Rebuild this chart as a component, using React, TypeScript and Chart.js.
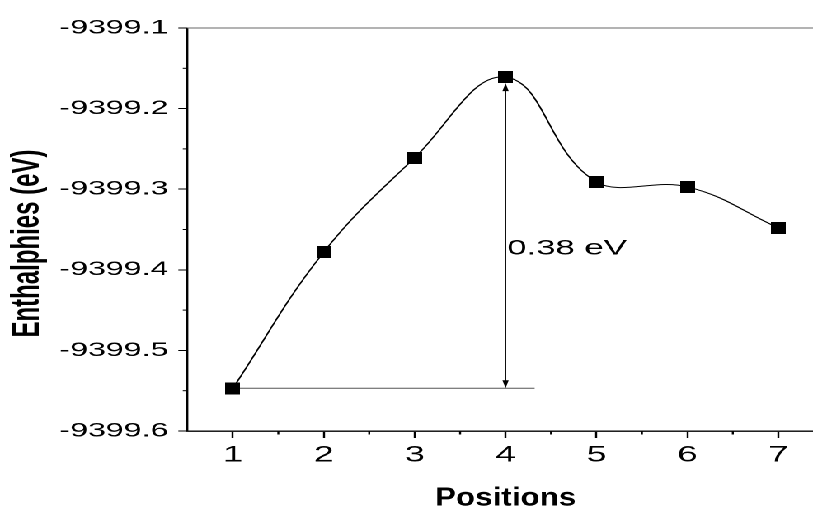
import React, { useEffect, useRef } from "react";
import { Chart, registerables } from "chart.js";

Chart.register(...registerables);

// ---- data ----
const positions = [1, 2, 3, 4, 5, 6, 7];
const enthalpies = [-9399.547, -9399.378, -9399.261, -9399.161, -9399.291, -9399.297, -9399.348];

// ---- axes ----
const xMin = 0.5;
const xMax = 7.4;
const yMin = -9399.6;
const yMax = -9399.1;
const yStep = 0.1;
const xMinorTicks = [1.5, 2.5, 3.5, 4.5, 5.5, 6.5];
const yMinorTicks = [-9399.55, -9399.45, -9399.35, -9399.25, -9399.15];

// ---- texts / annotation ----
const xTitle = "Positions";
const yTitle = "Enthalphies (eV)";
const barrierLabel = "0.38 eV";
const barrierLabelX = 4.02;
const barrierLabelY = -9399.374;
const baselineEndX = 4.32;
const baseIndex = 0;
const peakIndex = 3;

const VIEW_W = 493;
const W = 501;
const H = 506;
const STRETCH = 813 / VIEW_W;
const FONT = '"Liberation Sans", Arial, sans-serif';

const decorPlugin = {
  id: "decor",
  beforeDatasetsDraw(chart: any) {
    const { ctx, scales } = chart;
    const x = scales.x;
    const y = scales.y;
    ctx.save();
    const yb = y.getPixelForValue(enthalpies[baseIndex]);
    ctx.strokeStyle = "#555";
    ctx.lineWidth = 1;
    ctx.beginPath();
    ctx.moveTo(x.getPixelForValue(positions[baseIndex]), yb);
    ctx.lineTo(x.getPixelForValue(baselineEndX), yb);
    ctx.stroke();
    const ax = x.getPixelForValue(positions[peakIndex]);
    const yt = y.getPixelForValue(enthalpies[peakIndex]) + 6;
    ctx.strokeStyle = "#000";
    ctx.fillStyle = "#000";
    ctx.lineWidth = 0.8;
    ctx.beginPath();
    ctx.moveTo(ax, yt + 4);
    ctx.lineTo(ax, yb - 4);
    ctx.stroke();
    const hw = 1.9;
    const hl = 8;
    ctx.beginPath();
    ctx.moveTo(ax, yt);
    ctx.lineTo(ax - hw, yt + hl);
    ctx.lineTo(ax + hw, yt + hl);
    ctx.closePath();
    ctx.fill();
    ctx.beginPath();
    ctx.moveTo(ax, yb);
    ctx.lineTo(ax - hw, yb - hl);
    ctx.lineTo(ax + hw, yb - hl);
    ctx.closePath();
    ctx.fill();
    ctx.font = `21px ${FONT}`;
    ctx.textAlign = "left";
    ctx.textBaseline = "middle";
    ctx.fillText(barrierLabel, x.getPixelForValue(barrierLabelX), y.getPixelForValue(barrierLabelY));
    ctx.restore();
  },
  afterDraw(chart: any) {
    const { ctx, chartArea, scales } = chart;
    const x = scales.x;
    const y = scales.y;
    ctx.save();
    ctx.strokeStyle = "#666";
    ctx.lineWidth = 1;
    ctx.beginPath();
    ctx.moveTo(chartArea.left, chartArea.top);
    ctx.lineTo(chartArea.right, chartArea.top);
    ctx.stroke();
    ctx.strokeStyle = "#000";
    ctx.lineWidth = 1.2;
    xMinorTicks.forEach((v) => {
      const px = x.getPixelForValue(v);
      ctx.beginPath();
      ctx.moveTo(px, chartArea.bottom);
      ctx.lineTo(px, chartArea.bottom + 3.5);
      ctx.stroke();
    });
    ctx.lineWidth = 1;
    yMinorTicks.forEach((v) => {
      const py = y.getPixelForValue(v);
      ctx.beginPath();
      ctx.moveTo(chartArea.left, py);
      ctx.lineTo(chartArea.left - 2.8, py);
      ctx.stroke();
    });
    ctx.fillStyle = "#000";
    // x title
    ctx.save();
    ctx.font = `bold 19px ${FONT}`;
    ctx.textAlign = "center";
    ctx.textBaseline = "alphabetic";
    ctx.translate((chartArea.left + chartArea.right) / 2 + 2.8, 505.5);
    ctx.scale(1, 1.35);
    ctx.fillText(xTitle, 0, 0);
    ctx.restore();
    // y title
    ctx.font = `bold 24px ${FONT}`;
    ctx.textAlign = "center";
    ctx.textBaseline = "middle";
    ctx.translate(17, (chartArea.top + chartArea.bottom) / 2 + 14);
    ctx.rotate(-Math.PI / 2);
    ctx.fillText(yTitle, 0, 0);
    ctx.restore();
  },
};

export default function App() {
  const canvasRef = useRef<HTMLCanvasElement | null>(null);

  useEffect(() => {
    document.documentElement.style.overflow = "hidden";
    document.body.style.overflow = "hidden";
    const marker = document.createElement("canvas");
    marker.width = 9;
    marker.height = 12;
    const mctx = marker.getContext("2d")!;
    mctx.fillStyle = "#000";
    mctx.fillRect(0, 0, 9, 12);

    const chart = new Chart(canvasRef.current!, {
      type: "scatter",
      data: {
        datasets: [
          {
            data: positions.map((p, i) => ({ x: p, y: enthalpies[i] })),
            showLine: true,
            borderColor: "#000",
            borderWidth: 1,
            tension: 0.4,
            pointStyle: marker as any,
            pointRadius: 6,
            backgroundColor: "#000",
          },
        ],
      },
      options: {
        animation: false,
        responsive: false,
        maintainAspectRatio: false,
        devicePixelRatio: 2,
        events: [],
        layout: { padding: { left: 30, right: 0, top: 28, bottom: 33.6 } },
        plugins: { legend: { display: false }, tooltip: { enabled: false } },
        scales: {
          x: {
            type: "linear",
            min: xMin,
            max: xMax,
            afterBuildTicks: (axis: any) => {
              axis.ticks = positions.map((v) => ({ value: v }));
            },
            ticks: {
              stepSize: 1,
              color: "#000",
              padding: 4,
              maxRotation: 0,
              font: { family: FONT, size: 22 },
            },
            grid: {
              display: true,
              drawOnChartArea: false,
              drawTicks: true,
              tickLength: 7,
              tickColor: "#000",
              tickWidth: 1.2,
            },
            border: { display: true, color: "#000", width: 1.4 },
            title: { display: false, text: xTitle },
          },
          y: {
            type: "linear",
            min: yMin,
            max: yMax,
            ticks: {
              stepSize: yStep,
              color: "#000",
              padding: 6,
              font: { family: FONT, size: 19.5 },
              callback: (v: any) => Number(v).toFixed(1),
            },
            grid: {
              display: true,
              drawOnChartArea: false,
              drawTicks: true,
              tickLength: 5.5,
              tickColor: "#000",
              tickWidth: 1,
            },
            border: { display: true, color: "#000", width: 1.2 },
          },
        },
      },
      plugins: [decorPlugin],
    });
    return () => chart.destroy();
  }, []);

  return (
    <div
      style={{
        position: "absolute",
        left: 0,
        top: 0,
        width: VIEW_W,
        height: H,
        overflow: "hidden",
        transform: `scaleX(${STRETCH})`,
        transformOrigin: "0 0",
        background: "#fff",
      }}
    >
      <canvas ref={canvasRef} width={W} height={H} style={{ width: W, height: H, display: "block" }} />
    </div>
  );
}
